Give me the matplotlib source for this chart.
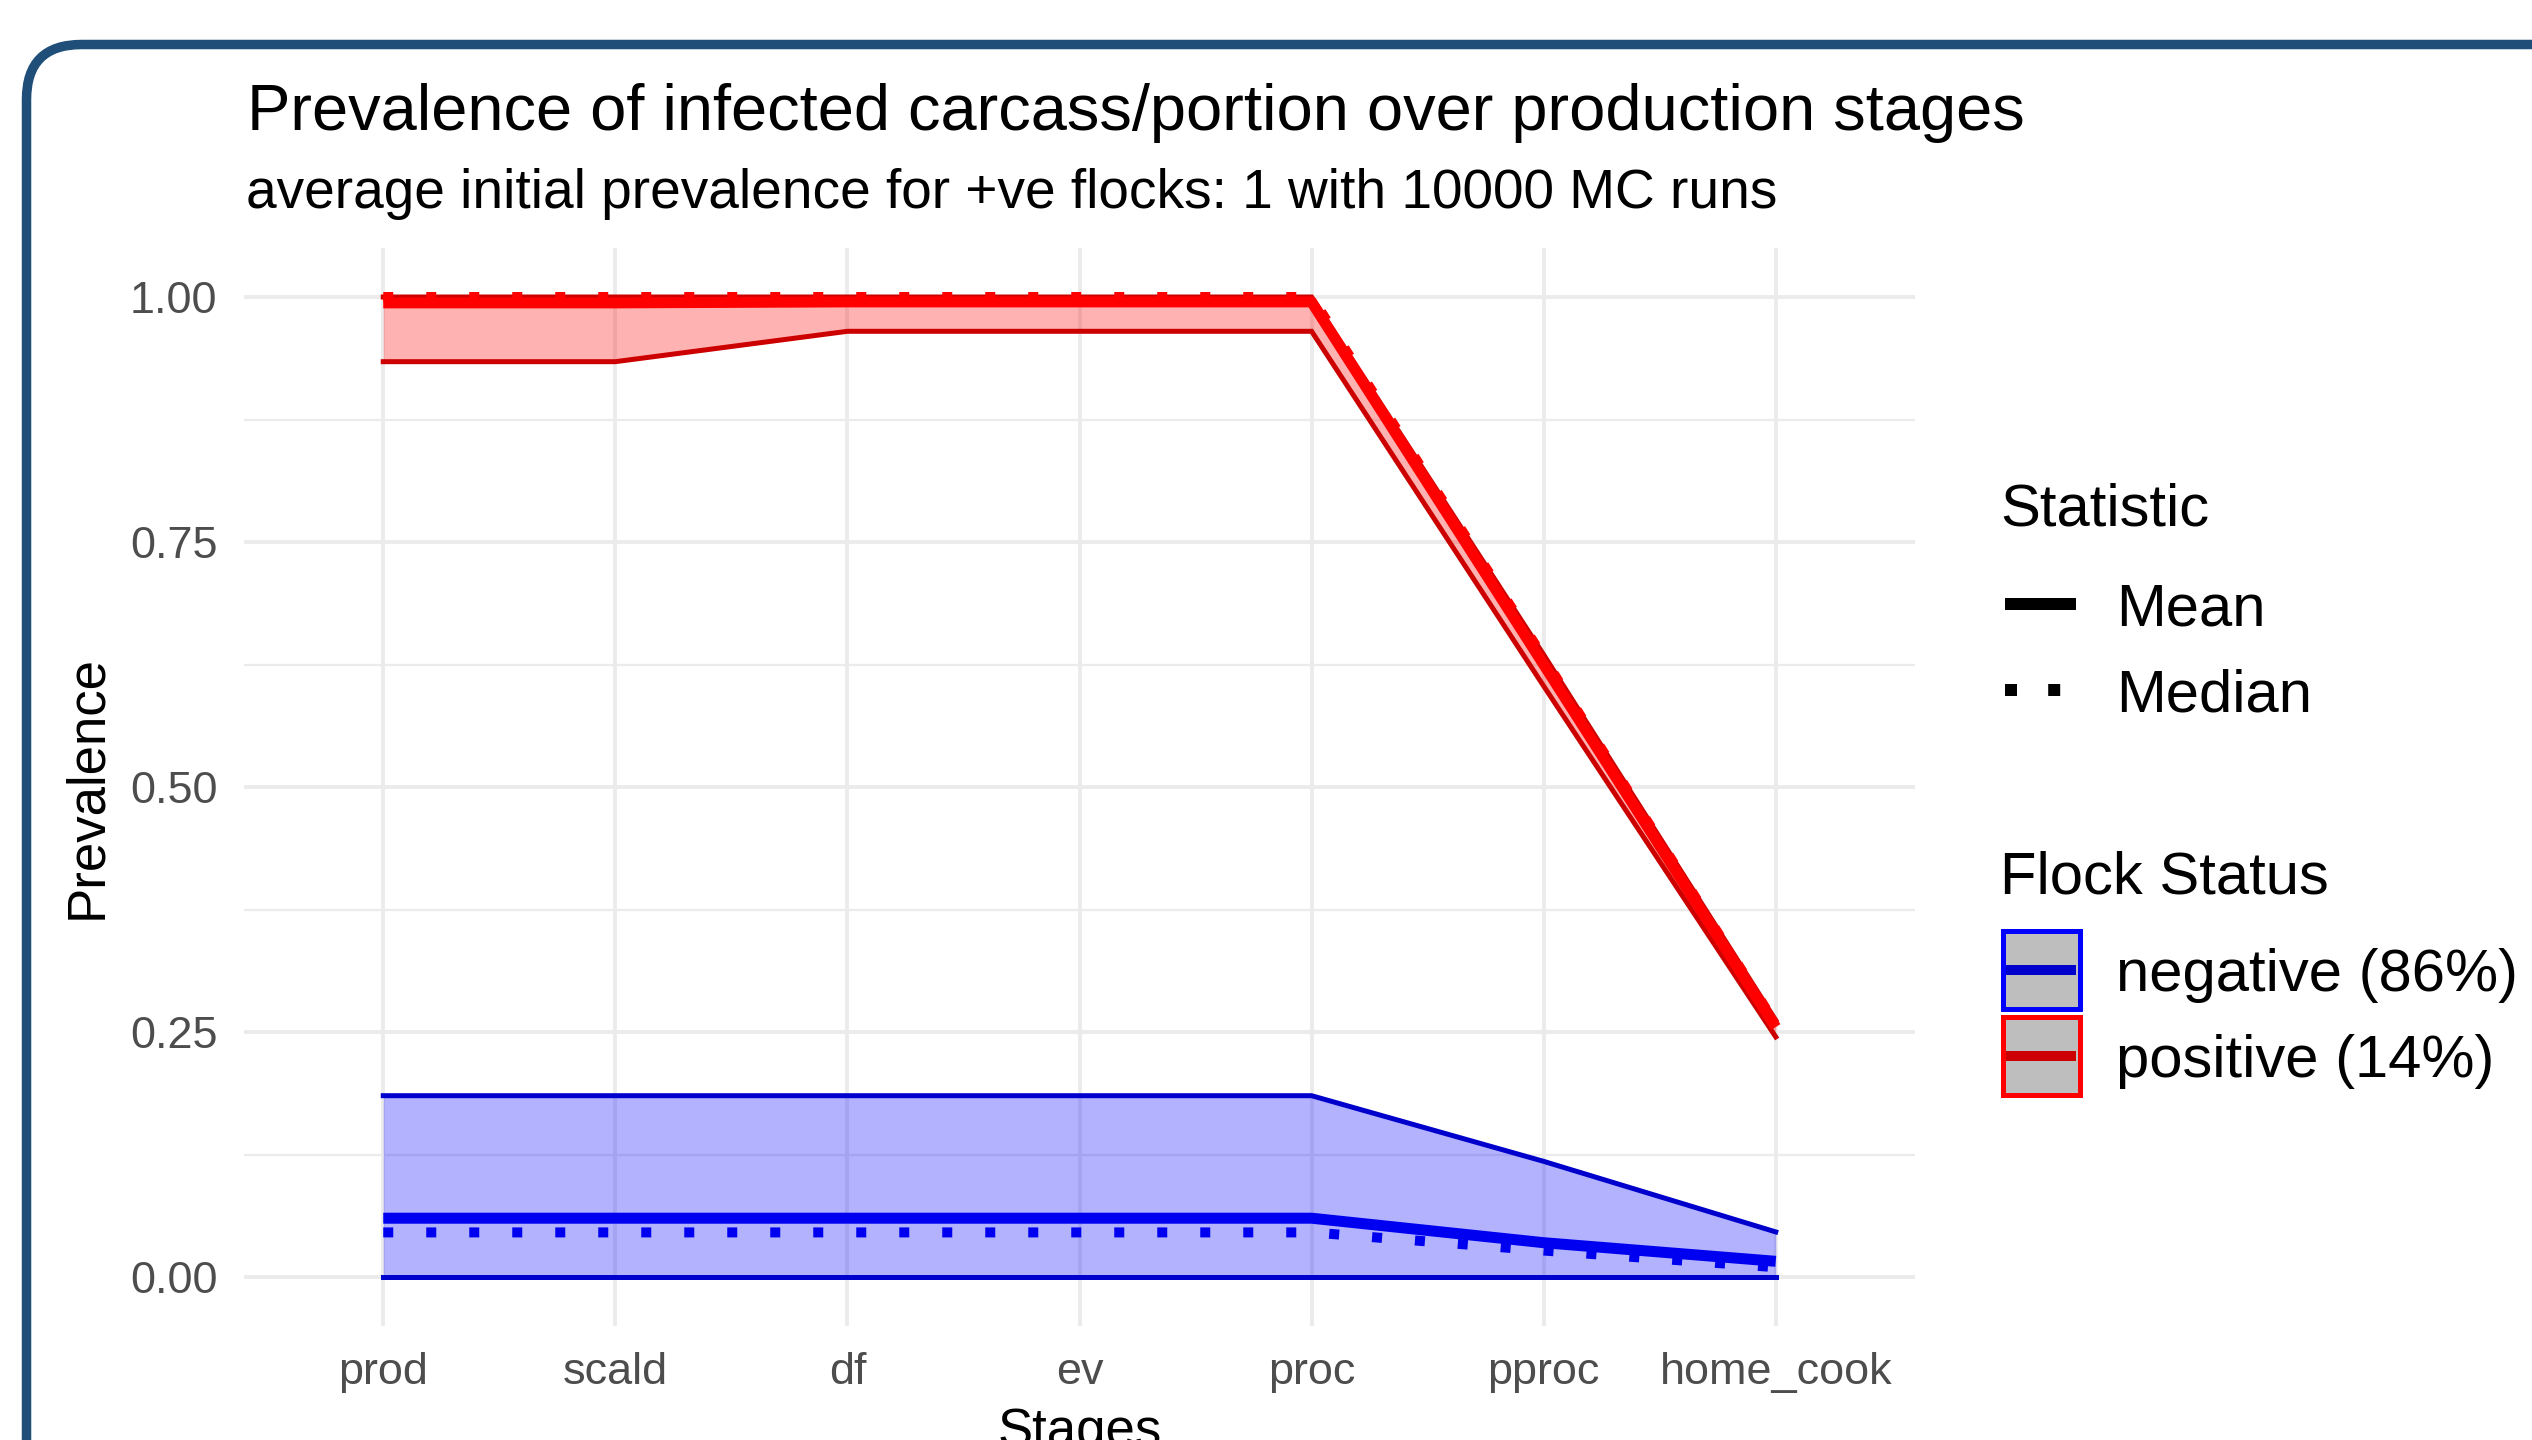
import matplotlib
matplotlib.use('Agg')
import matplotlib.pyplot as plt
from matplotlib.lines import Line2D
from matplotlib.patches import Rectangle, FancyBboxPatch
from matplotlib.transforms import IdentityTransform
from matplotlib.ticker import MultipleLocator

# ---------------- data ----------------
stages = ["prod", "scald", "df", "ev", "proc", "pproc", "home_cook"]

neg_mean   = [0.060, 0.060, 0.060, 0.060, 0.060, 0.035, 0.016]
neg_median = [0.0455, 0.0455, 0.0455, 0.0455, 0.0455, 0.027, 0.010]
neg_lower  = [0.0, 0.0, 0.0, 0.0, 0.0, 0.0, 0.0]
neg_upper  = [0.185, 0.185, 0.185, 0.185, 0.185, 0.118, 0.046]

pos_mean   = [0.994, 0.994, 0.995, 0.995, 0.995, 0.625, 0.255]
pos_median = [1.0, 1.0, 1.0, 1.0, 1.0, 0.632, 0.258]
pos_lower  = [0.934, 0.934, 0.965, 0.965, 0.965, 0.603, 0.245]
pos_upper  = [1.0, 1.0, 1.0, 1.0, 1.0, 0.635, 0.262]

yticks = [0.0, 0.25, 0.5, 0.75, 1.0]
ytick_labels = ["0.00", "0.25", "0.50", "0.75", "1.00"]

title = "Prevalence of infected carcass/portion over production stages"
subtitle = "average initial prevalence for +ve flocks: 1 with 10000 MC runs"
legend_stat_title = "Statistic"
legend_stat_labels = ["Mean", "Median"]
legend_flock_title = "Flock Status"
legend_flock_labels = ["negative (86%)", "positive (14%)"]

# ---------------- setup ----------------
plt.rcParams['font.family'] = ['Liberation Sans', 'DejaVu Sans']
W, H, DPI = 2532, 1440, 200
PT = 72.0 / DPI  # points per pixel

fig = plt.figure(figsize=(W / DPI, H / DPI), dpi=DPI)
fig.patch.set_facecolor('white')

def fx(x):
    return x / W

def fy(y):
    return 1 - y / H

ax_l, ax_r, ax_t, ax_b = 244, 1915, 248, 1326
ax = fig.add_axes([fx(ax_l), fy(ax_b), (ax_r - ax_l) / W, (ax_b - ax_t) / H])
ax.set_facecolor('white')
for s in ax.spines.values():
    s.set_visible(False)

xs = list(range(len(stages)))
ax.set_xlim(-0.6, len(stages) - 1 + 0.6)
ax.set_ylim(-0.05, 1.05)
ax.set_xticks(xs)
ax.set_xticklabels(stages)
ax.set_yticks(yticks)
ax.set_yticklabels(ytick_labels)
ax.yaxis.set_minor_locator(MultipleLocator(0.125))
ax.tick_params(axis='both', which='both', length=0, labelsize=16.2, labelcolor='#4d4d4d')
ax.tick_params(axis='x', pad=9.5)
ax.tick_params(axis='y', pad=9.5)
ax.grid(True, which='major', axis='both', color='#ebebeb', lw=1.4, zorder=0)
ax.grid(True, which='minor', axis='y', color='#ebebeb', lw=0.8, zorder=0)
ax.set_axisbelow(True)

groups = [
    (neg_lower, neg_upper, neg_mean, neg_median, '#0000ff', '#0000cd', '#0000f0'),
    (pos_lower, pos_upper, pos_mean, pos_median, '#ff0000', '#cd0000', '#ff0000'),
]
for lo, hi, mn, md, fillc, edgec, linec in groups:
    ax.fill_between(xs, lo, hi, color=fillc, alpha=0.3, lw=0, zorder=2)
    ax.plot(xs, lo, color=edgec, lw=5 * PT, zorder=3, solid_joinstyle='miter')
    ax.plot(xs, hi, color=edgec, lw=5 * PT, zorder=3, solid_joinstyle='miter')
for lo, hi, mn, md, fillc, edgec, linec in groups:
    ax.plot(xs, mn, color=linec, lw=11 * PT, zorder=4, solid_capstyle='butt')
    ax.plot(xs, md, color=linec, lw=10 * PT, zorder=5, linestyle=(0, (1.0, 3.3)),
            dash_capstyle='butt')

# ---------------- texts ----------------
fig.text(fx(247), fy(130), title, fontsize=23.4, ha='left', va='baseline', color='black')
fig.text(fx(246), fy(208), subtitle, fontsize=19.8, ha='left', va='baseline', color='black')
fig.text(fx(87), fy(787), "Prevalence", fontsize=19, rotation=90, ha='center', va='center')
# x-axis title sits at the bottom edge, partly cut off as in the reference
fig.text(fx(1079.5), fy(1446), "Stages", fontsize=19, ha='center', va='baseline')

# ---------------- legends ----------------
fig.text(fx(2000), fy(526), legend_stat_title, fontsize=21.5, ha='left', va='baseline')
fig.add_artist(Line2D([fx(2005), fx(2076)], [fy(604), fy(604)], color='black',
                      lw=12 * PT, solid_capstyle='butt', transform=fig.transFigure))
fig.add_artist(Line2D([fx(2005), fx(2076)], [fy(690), fy(690)], color='black',
                      lw=12 * PT, linestyle=(0, (1.0, 2.6)), dash_capstyle='butt',
                      transform=fig.transFigure))
fig.text(fx(2116), fy(626), legend_stat_labels[0], fontsize=21.5, ha='left', va='baseline')
fig.text(fx(2116), fy(712), legend_stat_labels[1], fontsize=21.5, ha='left', va='baseline')

fig.text(fx(2000), fy(893), legend_flock_title, fontsize=21.5, ha='left', va='baseline')
keys = [(970, '#0000ff', '#0000cd'), (1056, '#ff0000', '#cd0000')]
for (cy, edge, line), lab in zip(keys, legend_flock_labels):
    fig.add_artist(Rectangle((fx(2002.5), fy(cy + 39)), 77 / W, 78 / H,
                             facecolor='#bebebe', edgecolor=edge, lw=5 * PT,
                             transform=fig.transFigure))
    fig.add_artist(Line2D([fx(2006), fx(2076)], [fy(cy), fy(cy)], color=line,
                          lw=10 * PT, solid_capstyle='butt', transform=fig.transFigure))
    fig.text(fx(2116), fy(cy + 21), lab, fontsize=21.5, ha='left', va='baseline')

# ---------------- frame ----------------
frame = FancyBboxPatch((26.5, -300), W + 300, (H - 44.5) + 300,
                       boxstyle="round,pad=0,rounding_size=55",
                       transform=IdentityTransform(), fill=False,
                       edgecolor='#1f4e79', lw=9.5 * PT, clip_on=False)
fig.add_artist(frame)

fig.savefig('out.png', dpi=DPI, facecolor='white')
